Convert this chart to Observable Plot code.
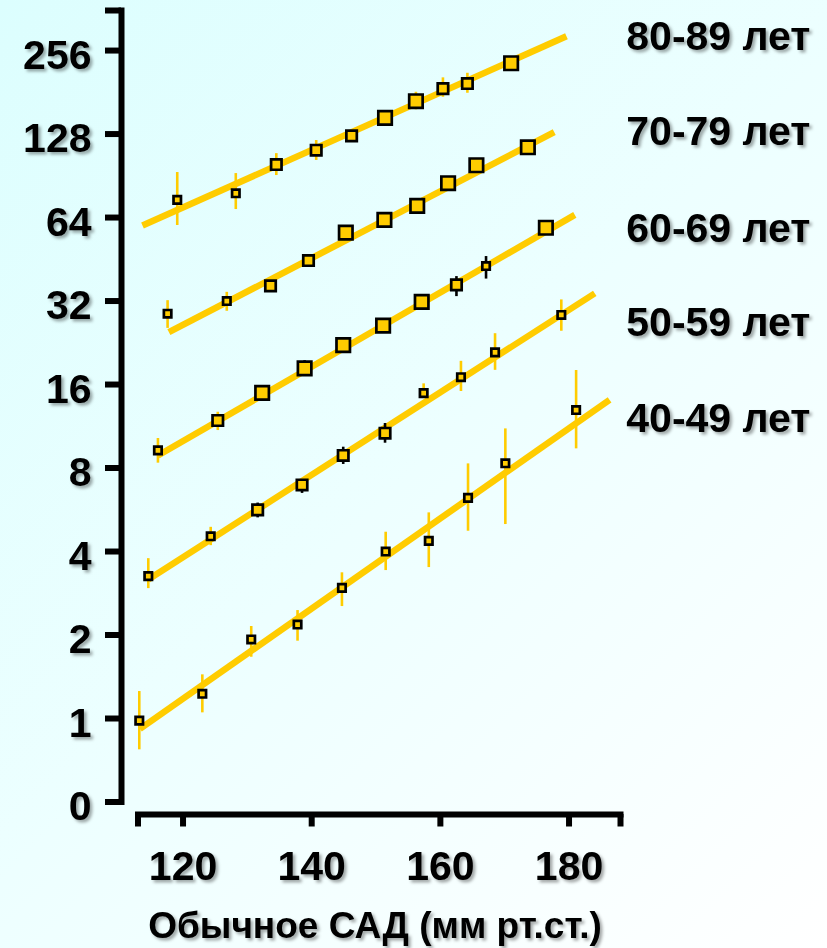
<!DOCTYPE html>
<html>
<head>
<meta charset="utf-8">
<script src="https://cdn.jsdelivr.net/npm/d3@7"></script>
<script src="https://cdn.jsdelivr.net/npm/@observablehq/plot@0.6"></script>
<style>
  html, body { margin: 0; padding: 0; }
  body {
    width: 827px; height: 948px; overflow: hidden;
    background: linear-gradient(135deg, #DCFEFE 0%, #EDFFFF 50%, #FFFFFF 100%);
    font-family: "Liberation Sans", Arial, Helvetica, sans-serif;
  }
  #chart svg { display: block; }
</style>
</head>
<body>
<div id="chart"></div>
<script>
// ---------------- data ----------------
const ageGroups = ["80-89 лет", "70-79 лет", "60-69 лет", "50-59 лет", "40-49 лет"];

// usual systolic blood pressure (x) and relative risk (y, log2 axis)
const sbp8089 = [119.1, 128.2, 134.5, 140.7, 146.2, 151.4, 156.2, 160.4, 164.2, 171.0];
const risk8089 = [74.1, 78.3, 99.4, 111.9, 126.1, 146.4, 168.1, 186.7, 194.7, 230.4];
const lo8089 = [59.9, 68.4, 90.7, 102.8, null, null, 156.5, 173.7, 179.6, null];
const hi8089 = [93.0, 92.2, 108.8, 121.3, null, null, 181.1, 204.1, 212.0, null];
const n8089 = [1, 1, 2, 2, 2, 3, 3, 2, 2, 3];

const sbp7079 = [117.6, 126.8, 133.6, 139.5, 145.3, 151.3, 156.4, 161.2, 165.6, 173.6];
const risk7079 = [28.8, 32.0, 36.3, 44.8, 56.5, 62.8, 70.5, 85.1, 98.8, 114.7];
const lo7079 = [25.5, 29.4, null, null, null, null, null, null, null, null];
const hi7079 = [32.1, 34.4, null, null, null, null, null, null, null, null];
const n7079 = [1, 1, 2, 2, 3, 3, 3, 3, 3, 3];

const sbp6069 = [116.1, 125.4, 132.3, 138.9, 144.9, 151.1, 157.1, 162.5, 167.1, 176.4];
const risk6069 = [9.26, 11.87, 14.94, 18.3, 22.2, 26.1, 31.8, 36.6, 42.8, 58.8];
const lo6069 = [8.33, 10.92, null, 17.4, null, null, null, 33.2, 38.4, null];
const hi6069 = [10.22, 12.71, null, 19.5, null, null, null, 39.2, 46.3, null];
const n6069 = [1, 2, 3, 3, 3, 3, 3, 2, 1, 3];

const sbp5059 = [114.6, 124.3, 131.6, 138.5, 144.9, 151.4, 157.4, 163.2, 168.5, 178.8];
const risk5059 = [3.26, 4.54, 5.65, 6.95, 8.88, 10.68, 14.89, 17.0, 20.9, 28.5];
const lo5059 = [2.94, 4.20, 5.29, 6.48, 8.24, 9.83, 14.36, 15.1, 18.0, 24.9];
const hi5059 = [3.77, 4.89, 5.98, 7.20, 9.51, 11.58, 16.09, 19.4, 24.4, 32.3];
const n5059 = [1, 1, 2, 2, 2, 2, 1, 1, 1, 1];

const sbp4049 = [113.2, 123.0, 130.6, 137.8, 144.7, 151.5, 158.2, 164.3, 170.1, 181.1];
const risk4049 = [0.983, 1.228, 1.927, 2.182, 2.959, 4.0, 4.371, 6.245, 8.32, 12.95];
const lo4049 = [0.771, 1.048, 1.663, 1.900, 2.533, 3.415, 3.501, 4.734, 5.004, 9.38];
const hi4049 = [1.251, 1.437, 2.147, 2.450, 3.352, 4.695, 5.513, 8.28, 11.07, 17.98];
const n4049 = [1, 1, 1, 1, 1, 1, 1, 1, 1, 1];

// fitted lines: start and end points, per age group (same order as ageGroups)
const fitSbpStart = [113.7, 117.8, 116.1, 114.6, 113.3];
const fitRiskStart = [59.9, 24.7, 8.88, 3.17, 0.918];
const fitSbpEnd = [179.6, 177.7, 180.9, 184.0, 186.3];
const fitRiskEnd = [288.2, 130.0, 65.4, 34.1, 14.09];

// group labels placed at the right of each line
const labelSbp = 188.9;
const labelRisk = [286.0, 130.1, 58.4, 26.6, 12.06];

// axes
const yTickValues = [0.5, 1, 2, 4, 8, 16, 32, 64, 128, 256];
const yTickLabels = ["0", "1", "2", "4", "8", "16", "32", "64", "128", "256"];
const yMax = 357;
const xTickValues = [120, 140, 160, 180];
const xMin = 113, xMax = 188;
const xTitle = "Обычное САД (мм рт.ст.)";

// error bars drawn in black in the original
const darkErrorBars = new Set(["60-69 лет:3", "60-69 лет:7", "60-69 лет:8",
  "50-59 лет:2", "50-59 лет:3", "50-59 лет:4", "50-59 лет:5"]);

// ---------------- build tables ----------------
const seriesArrays = [
  [ageGroups[0], sbp8089, risk8089, lo8089, hi8089, n8089],
  [ageGroups[1], sbp7079, risk7079, lo7079, hi7079, n7079],
  [ageGroups[2], sbp6069, risk6069, lo6069, hi6069, n6069],
  [ageGroups[3], sbp5059, risk5059, lo5059, hi5059, n5059],
  [ageGroups[4], sbp4049, risk4049, lo4049, hi4049, n4049]
];
const points = seriesArrays.flatMap(([group, sbp, risk, lo, hi, n]) =>
  sbp.map((x, i) => ({group, i, sbp: x, risk: risk[i], lo: lo[i], hi: hi[i], n: n[i]})));
const bars = points.filter(d => d.lo != null && d.hi != null);
const fits = ageGroups.map((g, i) => ({
  group: g, x1: fitSbpStart[i], y1: fitRiskStart[i], x2: fitSbpEnd[i], y2: fitRiskEnd[i]
}));

const FONT = '"Liberation Sans", Arial, Helvetica, sans-serif';
const gold = "#FFCC00";

const chart = Plot.plot({
  width: 827,
  height: 948,
  marginLeft: 121,
  marginRight: 207,
  marginTop: 10,
  marginBottom: 134,
  style: {background: "transparent", overflow: "visible", fontFamily: FONT},
  x: {domain: [xMin, xMax], insetLeft: 16.5},
  y: {type: "log", base: 2, domain: [0.5, yMax], insetBottom: 12.5},
  r: {type: "linear", domain: [1, 3], range: [4.2, 7.6]},
  marks: [
    Plot.frame({anchor: "left", insetBottom: 12.5, stroke: "#000", strokeWidth: 6, strokeLinecap: "square"}),
    Plot.frame({anchor: "bottom", insetLeft: 16.5, stroke: "#000", strokeWidth: 6, strokeLinecap: "square"}),
    Plot.axisY({ticks: [...yTickValues, yMax], tickSize: 16, strokeWidth: 6, fill: "none", label: null}),
    Plot.axisY({
      ticks: yTickValues, tickFormat: d => yTickLabels[yTickValues.indexOf(d)],
      tickSize: 16, tickPadding: 14, stroke: "none", fill: "#000",
      fontSize: 41, fontWeight: "bold", dy: 5, label: null
    }),
    Plot.axisX({ticks: [xMin, ...xTickValues, xMax], tickSize: 12.5, strokeWidth: 6, fill: "none", label: null}),
    Plot.axisX({
      ticks: xTickValues, tickFormat: d => String(d),
      tickSize: 12.5, tickPadding: 23.5, stroke: "none", fill: "#000",
      fontSize: 41, fontWeight: "bold", label: null
    }),
    Plot.link(fits, {x1: "x1", y1: "y1", x2: "x2", y2: "y2", stroke: gold, strokeWidth: 6.5}),
    Plot.ruleX(bars, {
      x: "sbp", y1: "lo", y2: "hi", strokeWidth: 2.6,
      stroke: d => darkErrorBars.has(d.group + ":" + d.i) ? "#000000" : gold
    }),
    Plot.dot(points, {x: "sbp", y: "risk", r: "n", symbol: "square", fill: gold, stroke: "#000", strokeWidth: 2.7}),
    Plot.text(ageGroups, {
      x: () => labelSbp, y: (d, i) => labelRisk[i], text: d => d,
      textAnchor: "start", fontSize: 41, fontWeight: "bold", fill: "#000"
    }),
    Plot.text([xTitle], {
      frameAnchor: "bottom", lineAnchor: "top", dy: 97, dx: 4,
      fontSize: 37, fontWeight: "bold", fill: "#000"
    })
  ]
});

document.getElementById("chart").appendChild(chart);

// soft drop shadow under the texts, as in the original slide
const svg = d3.select(chart.tagName.toLowerCase() === "svg" ? chart : chart.querySelector("svg"));
const defs = svg.insert("defs", ":first-child");
defs.append("filter").attr("id", "txtShadow")
  .attr("x", "-10%").attr("y", "-20%").attr("width", "130%").attr("height", "150%")
  .append("feDropShadow")
  .attr("dx", 2.5).attr("dy", 2.5).attr("stdDeviation", 1.4)
  .attr("flood-color", "#000").attr("flood-opacity", 0.35);
svg.selectAll("text").attr("filter", "url(#txtShadow)");
</script>
</body>
</html>
